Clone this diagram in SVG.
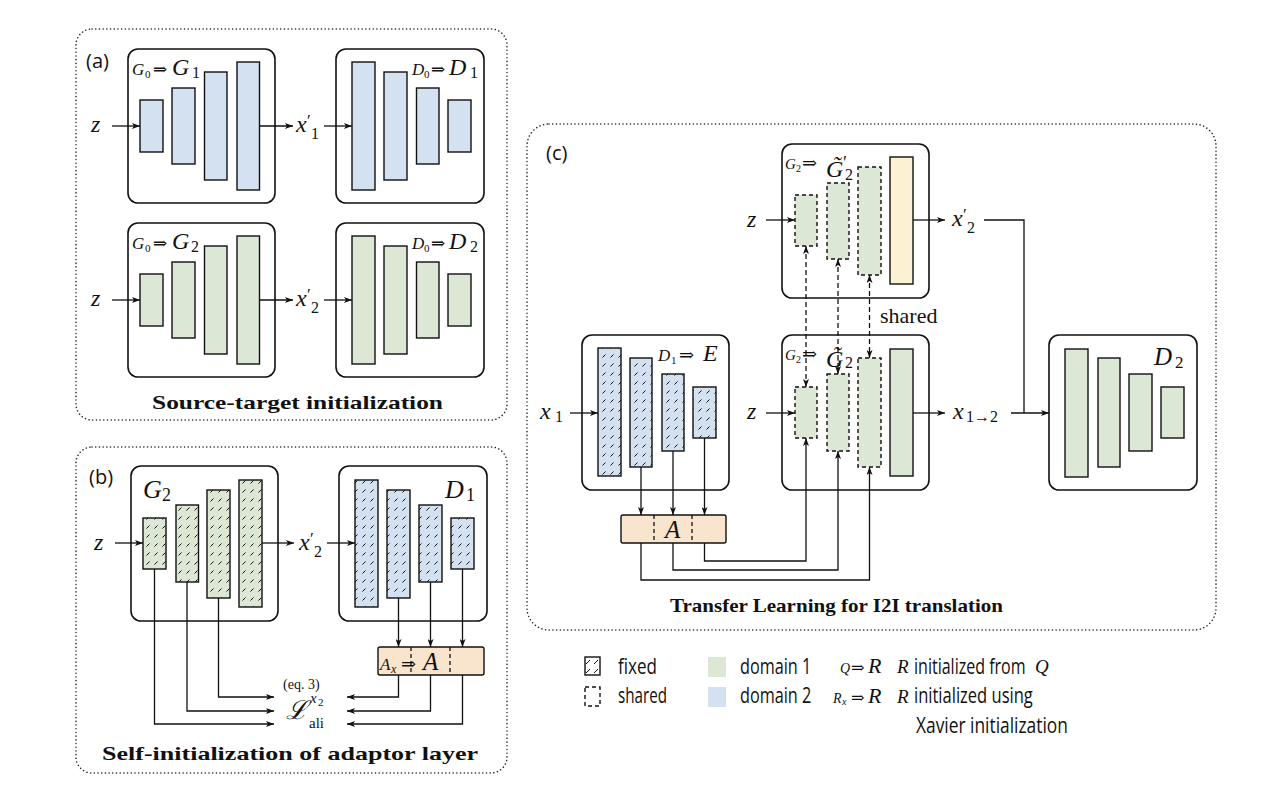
<svg xmlns="http://www.w3.org/2000/svg" width="1262" height="794" viewBox="0 0 1262 794">
<style>
.panel{fill:none;stroke:#222;stroke-width:1.5;stroke-dasharray:0.1 3.6;stroke-linecap:round}
.box{fill:none;stroke:#111;stroke-width:1.6}
.bar{stroke:#111;stroke-width:1.4}
.dash{stroke-dasharray:4 3}
.b{fill:#d3e1f1}
.g{fill:#dce8d5}
.y{fill:#fcf1d3}
.hb{fill:url(#hb)}
.hg{fill:url(#hg)}
.ad{fill:#f9e4cd;stroke:#111;stroke-width:1.4}
.div{stroke:#111;stroke-width:1.3;stroke-dasharray:4 3}
.c{fill:none;stroke:#111;stroke-width:1.3}
.ca{fill:none;stroke:#111;stroke-width:1.3;marker-end:url(#ah)}
.sh{fill:none;stroke:#111;stroke-width:1.3;stroke-dasharray:5 3;marker-start:url(#ah);marker-end:url(#ah)}
.m{font-family:"Liberation Serif","DejaVu Serif",serif;font-style:italic;fill:#111}
.n{font-family:"Liberation Serif","DejaVu Serif",serif;font-style:normal;fill:#111}
.lab{font-family:"Open Sans","DejaVu Sans",sans-serif;font-size:20px;fill:#111}
.ttl{font-family:"Liberation Serif","DejaVu Serif",serif;font-weight:bold;font-size:19px;fill:#111}
.leg{font-family:"Open Sans","DejaVu Sans",sans-serif;font-size:21px;fill:#111}
</style>
<defs>
  <marker id="ah" viewBox="0 0 8 6" refX="8" refY="3" markerWidth="8" markerHeight="6" markerUnits="userSpaceOnUse" orient="auto-start-reverse">
    <path d="M0,0 L8,3 L0,6 L2,3 z" fill="#111"/>
  </marker>
  <pattern id="hb" width="8" height="9" patternUnits="userSpaceOnUse">
    <rect width="8" height="9" fill="#d3e1f1"/>
    <path d="M2.5,6.5 L5.5,3.5" stroke="#111" stroke-width="1"/>
  </pattern>
  <pattern id="hg" width="8" height="9" patternUnits="userSpaceOnUse">
    <rect width="8" height="9" fill="#dce8d5"/>
    <path d="M2.5,6.5 L5.5,3.5" stroke="#111" stroke-width="1"/>
  </pattern>
  <pattern id="hw" width="8" height="9" patternUnits="userSpaceOnUse">
    <rect width="8" height="9" fill="#fff"/>
    <path d="M2,7 L6,3" stroke="#111" stroke-width="1"/>
  </pattern>
</defs>

<!-- panel frames and captions -->
<g id="panels">
  <rect class="panel" x="76" y="29" width="431" height="391" rx="16"/>
  <rect class="panel" x="76" y="447" width="431" height="326" rx="16"/>
  <rect class="panel" x="527" y="124" width="689" height="506" rx="22"/>
  <text class="lab" x="86" y="68">(a)</text>
  <text class="lab" x="89" y="484">(b)</text>
  <text class="lab" x="546" y="160">(c)</text>
  <text class="ttl" x="152" y="409" textLength="291" lengthAdjust="spacingAndGlyphs">Source-target initialization</text>
  <text class="ttl" x="102" y="760" textLength="376" lengthAdjust="spacingAndGlyphs">Self-initialization of adaptor layer</text>
  <text class="ttl" x="670" y="612" textLength="333" lengthAdjust="spacingAndGlyphs">Transfer Learning for I2I translation</text>
</g>

<!-- (a) row 1 -->
<g id="a-g1">
  <rect class="box" x="128" y="49" width="147" height="154" rx="10"/>
  <rect class="bar b" x="140" y="100" width="23" height="52"/>
  <rect class="bar b" x="172" y="88" width="23" height="76"/>
  <rect class="bar b" x="204.5" y="72" width="22.5" height="108"/>
  <rect class="bar b" x="237" y="62" width="22.5" height="128"/>
  <text class="m" x="132" y="75" font-size="17">G<tspan class="n" x="145" y="78" font-size="11">0</tspan><tspan class="n" x="153" y="75" font-size="17">⇒</tspan><tspan x="172" y="75" font-size="24">G</tspan><tspan class="n" x="192" y="78" font-size="16">1</tspan></text>
</g>
<g id="a-d1">
  <rect class="box" x="336" y="49" width="148" height="154" rx="10"/>
  <rect class="bar b" x="352" y="62" width="23" height="128"/>
  <rect class="bar b" x="384" y="72" width="23" height="108"/>
  <rect class="bar b" x="416.5" y="88" width="22.5" height="76"/>
  <rect class="bar b" x="448" y="100" width="23" height="52"/>
  <text class="m" x="412" y="75" font-size="17">D<tspan class="n" x="424" y="78" font-size="11">0</tspan><tspan class="n" x="431" y="75" font-size="17">⇒</tspan><tspan x="449" y="75" font-size="24">D</tspan><tspan class="n" x="470" y="78" font-size="16">1</tspan></text>
</g>
<!-- (a) row 2 -->
<g id="a-g2">
  <rect class="box" x="128" y="223" width="147" height="154" rx="10"/>
  <rect class="bar g" x="140" y="274" width="23" height="52"/>
  <rect class="bar g" x="172" y="262" width="23" height="76"/>
  <rect class="bar g" x="204.5" y="246" width="22.5" height="108"/>
  <rect class="bar g" x="237" y="236" width="22.5" height="128"/>
  <text class="m" x="132" y="249" font-size="17">G<tspan class="n" x="145" y="252" font-size="11">0</tspan><tspan class="n" x="153" y="249" font-size="17">⇒</tspan><tspan x="172" y="249" font-size="24">G</tspan><tspan class="n" x="191" y="252" font-size="16">2</tspan></text>
</g>
<g id="a-d2">
  <rect class="box" x="336" y="223" width="148" height="154" rx="10"/>
  <rect class="bar g" x="352" y="236" width="23" height="128"/>
  <rect class="bar g" x="384" y="246" width="23" height="108"/>
  <rect class="bar g" x="416.5" y="262" width="22.5" height="76"/>
  <rect class="bar g" x="448" y="274" width="23" height="52"/>
  <text class="m" x="412" y="249" font-size="17">D<tspan class="n" x="424" y="252" font-size="11">0</tspan><tspan class="n" x="431" y="249" font-size="17">⇒</tspan><tspan x="449" y="249" font-size="24">D</tspan><tspan class="n" x="470" y="252" font-size="16">2</tspan></text>
</g>

<!-- (b) -->
<g id="b-g2">
  <rect class="box" x="131" y="466" width="147" height="155" rx="10"/>
  <rect class="bar hg" x="143" y="518" width="23" height="51"/>
  <rect class="bar hg" x="176" y="505" width="22.5" height="77"/>
  <rect class="bar hg" x="207" y="490" width="23" height="108"/>
  <rect class="bar hg" x="239" y="480" width="23" height="127"/>
  <text class="m" x="143" y="498" font-size="26">G<tspan class="n" x="162" y="501" font-size="18">2</tspan></text>
</g>
<g id="b-d1">
  <rect class="box" x="339" y="466" width="148" height="155" rx="10"/>
  <rect class="bar hb" x="355" y="480" width="23" height="127"/>
  <rect class="bar hb" x="387" y="490" width="23" height="108"/>
  <rect class="bar hb" x="419" y="505" width="23" height="77"/>
  <rect class="bar hb" x="451" y="518" width="23" height="51"/>
  <text class="m" x="445" y="498" font-size="26">D<tspan class="n" x="466" y="501" font-size="18">1</tspan></text>
</g>
<g id="b-adaptor">
  <rect class="ad" x="378" y="647" width="106" height="28" rx="2"/>
  <line class="div" x1="411" y1="647" x2="411" y2="675"/>
  <line class="div" x1="450" y1="647" x2="450" y2="675"/>
  <text class="m" x="380" y="670" font-size="17">A<tspan x="391" y="673" font-size="12">x</tspan><tspan class="n" x="401" y="670" font-size="18">⇒</tspan><tspan x="423" y="670" font-size="25">A</tspan></text>
</g>
<g id="b-loss">
  <text class="n" x="283" y="689" font-size="14">(eq. 3)</text>
  <text class="m" x="286" y="719" font-size="26">ℒ</text>
  <text class="m" x="310" y="703" font-size="15">x<tspan class="n" x="318" y="706" font-size="11">2</tspan></text>
  <text class="n" x="309" y="728" font-size="15">ali</text>
</g>

<!-- (c) -->
<g id="c-gp">
  <rect class="box" x="782" y="144" width="147" height="154" rx="10"/>
  <rect class="bar g dash" x="795" y="195" width="22" height="51"/>
  <rect class="bar g dash" x="827" y="183" width="22" height="76"/>
  <rect class="bar g dash" x="858" y="167" width="23" height="108"/>
  <rect class="bar y" x="890" y="157" width="23" height="127"/>
  <text class="m" x="785" y="169" font-size="15">G<tspan class="n" x="796" y="172" font-size="10">2</tspan><tspan class="n" x="802" y="169" font-size="18">⇒</tspan><tspan x="826" y="177" font-size="24">G&#x303;</tspan><tspan class="n" x="843" y="169" font-size="18">′</tspan><tspan class="n" x="845" y="180" font-size="16">2</tspan></text>
</g>
<g id="c-g">
  <rect class="box" x="782" y="335" width="147" height="155" rx="10"/>
  <rect class="bar g dash" x="795" y="387" width="22" height="51"/>
  <rect class="bar g dash" x="827" y="374" width="22" height="77"/>
  <rect class="bar g dash" x="858" y="358" width="23" height="109"/>
  <rect class="bar g" x="890" y="349" width="23" height="127"/>
  <text class="m" x="785" y="360" font-size="15">G<tspan class="n" x="796" y="363" font-size="10">2</tspan><tspan class="n" x="802" y="360" font-size="18">⇒</tspan><tspan x="826" y="367" font-size="24">G&#x303;</tspan><tspan class="n" x="845" y="368" font-size="16">2</tspan></text>
</g>
<g id="c-e">
  <rect class="box" x="582" y="335" width="147" height="155" rx="10"/>
  <rect class="bar hb" x="598" y="348" width="23" height="128"/>
  <rect class="bar hb" x="630" y="358" width="22" height="109"/>
  <rect class="bar hb" x="662" y="374" width="22" height="77"/>
  <rect class="bar hb" x="693" y="387" width="23" height="51"/>
  <text class="m" x="658" y="361" font-size="17">D<tspan class="n" x="671" y="364" font-size="11">1</tspan><tspan class="n" x="679" y="361" font-size="18">⇒</tspan><tspan x="703" y="361" font-size="24">E</tspan></text>
</g>
<g id="c-adaptor">
  <rect class="ad" x="621" y="515" width="105" height="28" rx="2"/>
  <line class="div" x1="654" y1="515" x2="654" y2="543"/>
  <line class="div" x1="692" y1="515" x2="692" y2="543"/>
  <text class="m" x="665" y="538" font-size="25">A</text>
</g>
<g id="c-d2">
  <rect class="box" x="1049" y="335" width="148" height="155" rx="10"/>
  <rect class="bar g" x="1065" y="349" width="23" height="128"/>
  <rect class="bar g" x="1098" y="358" width="22" height="109"/>
  <rect class="bar g" x="1129" y="374" width="23" height="77"/>
  <rect class="bar g" x="1161" y="387" width="23" height="51"/>
  <text class="m" x="1154" y="365" font-size="25">D<tspan class="n" x="1175" y="368" font-size="17">2</tspan></text>
</g>

<!-- signal labels -->
<g id="signals">
  <text class="m" x="91" y="132" font-size="24">z</text>
  <text class="m" x="296" y="132" font-size="24">x</text>
  <text class="n" x="307" y="126" font-size="17">′</text>
  <text class="n" x="311" y="139" font-size="16">1</text>
  <text class="m" x="91" y="306" font-size="24">z</text>
  <text class="m" x="296" y="306" font-size="24">x</text>
  <text class="n" x="307" y="300" font-size="17">′</text>
  <text class="n" x="311" y="313" font-size="16">2</text>
  <text class="m" x="94" y="550" font-size="24">z</text>
  <text class="m" x="299" y="550" font-size="24">x</text>
  <text class="n" x="310" y="544" font-size="17">′</text>
  <text class="n" x="314" y="557" font-size="16">2</text>
  <text class="m" x="747" y="227" font-size="24">z</text>
  <text class="m" x="747" y="419" font-size="24">z</text>
  <text class="m" x="540" y="419" font-size="24">x</text>
  <text class="n" x="555" y="422" font-size="16">1</text>
  <text class="m" x="952" y="226" font-size="24">x</text>
  <text class="n" x="963" y="220" font-size="17">′</text>
  <text class="n" x="967" y="233" font-size="16">2</text>
  <text class="m" x="953" y="419" font-size="24">x</text>
  <text class="n" x="966" y="422" font-size="16">1→2</text>
  <text class="n" x="880" y="323" font-size="22">shared</text>
</g>

<!-- connectors -->
<g id="connectors">
  <line class="ca" x1="112" y1="126" x2="140" y2="126"/>
  <line class="ca" x1="259.5" y1="126" x2="293" y2="126"/>
  <line class="ca" x1="324" y1="126" x2="352" y2="126"/>
  <line class="ca" x1="112" y1="300" x2="140" y2="300"/>
  <line class="ca" x1="259.5" y1="300" x2="293" y2="300"/>
  <line class="ca" x1="324" y1="300" x2="352" y2="300"/>

  <line class="ca" x1="115" y1="543" x2="143" y2="543"/>
  <line class="ca" x1="262" y1="543" x2="294" y2="543"/>
  <line class="ca" x1="327" y1="543" x2="355" y2="543"/>
  <line class="ca" x1="398.5" y1="598" x2="398.5" y2="647"/>
  <line class="ca" x1="430.5" y1="582" x2="430.5" y2="647"/>
  <line class="ca" x1="462.5" y1="569" x2="462.5" y2="647"/>
  <path class="ca" d="M398.5,675 V697 H347"/>
  <path class="ca" d="M430.5,675 V711 H347"/>
  <path class="ca" d="M462.5,675 V724 H347"/>
  <path class="ca" d="M218.5,598 V697 H274"/>
  <path class="ca" d="M187,582 V711 H274"/>
  <path class="ca" d="M154.5,569 V724 H274"/>

  <line class="ca" x1="766" y1="220" x2="795" y2="220"/>
  <line class="ca" x1="913" y1="220" x2="945" y2="220"/>
  <line class="ca" x1="766" y1="413" x2="795" y2="413"/>
  <line class="ca" x1="913" y1="413" x2="945" y2="413"/>
  <line class="ca" x1="570" y1="413" x2="598" y2="413"/>
  <path class="c" d="M984,220 H1024 V413"/>
  <line class="ca" x1="1011" y1="413" x2="1049" y2="413"/>
  <line class="ca" x1="641" y1="467" x2="641" y2="515"/>
  <line class="ca" x1="673" y1="451" x2="673" y2="515"/>
  <line class="ca" x1="704.5" y1="438" x2="704.5" y2="515"/>
  <path class="ca" d="M704.5,543 V561 H806 V438"/>
  <path class="ca" d="M673,543 V570 H838 V451"/>
  <path class="ca" d="M641,543 V580 H869.5 V467"/>
  <line class="sh" x1="806" y1="246" x2="806" y2="387"/>
  <line class="sh" x1="838" y1="259" x2="838" y2="374"/>
  <line class="sh" x1="869.5" y1="275" x2="869.5" y2="358"/>
</g>

<!-- key: sans labels are set in a horizontally condensed face -->
<g id="legend">
  <rect x="585" y="657" width="15" height="18" fill="url(#hw)" stroke="#111" stroke-width="1.4"/>
  <rect x="585" y="687" width="15" height="19" fill="none" stroke="#111" stroke-width="1.4" stroke-dasharray="4 3"/>
  <text class="leg" transform="translate(618,674) scale(0.72,1)" textLength="54" lengthAdjust="spacingAndGlyphs">fixed</text>
  <text class="leg" transform="translate(618,703) scale(0.72,1)" textLength="68" lengthAdjust="spacingAndGlyphs">shared</text>
  <rect x="708" y="657" width="18" height="20" fill="#dce8d5"/>
  <rect x="708" y="687" width="18" height="20" fill="#d3e1f1"/>
  <text class="leg" transform="translate(740,674) scale(0.72,1)" textLength="99" lengthAdjust="spacingAndGlyphs">domain 1</text>
  <text class="leg" transform="translate(740,703) scale(0.72,1)" textLength="99" lengthAdjust="spacingAndGlyphs">domain 2</text>
  <text class="m" x="840" y="673" font-size="14">Q<tspan class="n" x="851" y="673" font-size="16">⇒</tspan><tspan x="868" y="673" font-size="22">R</tspan></text>
  <text class="m" x="833" y="703" font-size="14">R<tspan x="842" y="705" font-size="10">x</tspan><tspan class="n" x="851" y="703" font-size="16">⇒</tspan><tspan x="868" y="703" font-size="22">R</tspan></text>
  <text class="m" x="897" y="673" font-size="19">R</text>
  <text class="leg" transform="translate(914,674) scale(0.72,1)" textLength="155" lengthAdjust="spacingAndGlyphs">initialized from</text>
  <text class="m" x="1035" y="673" font-size="19">Q</text>
  <text class="m" x="897" y="703" font-size="19">R</text>
  <text class="leg" transform="translate(914,703) scale(0.72,1)" textLength="165" lengthAdjust="spacingAndGlyphs">initialized using</text>
  <text class="leg" transform="translate(916,733) scale(0.72,1)" textLength="211" lengthAdjust="spacingAndGlyphs">Xavier initialization</text>
</g>
</svg>
